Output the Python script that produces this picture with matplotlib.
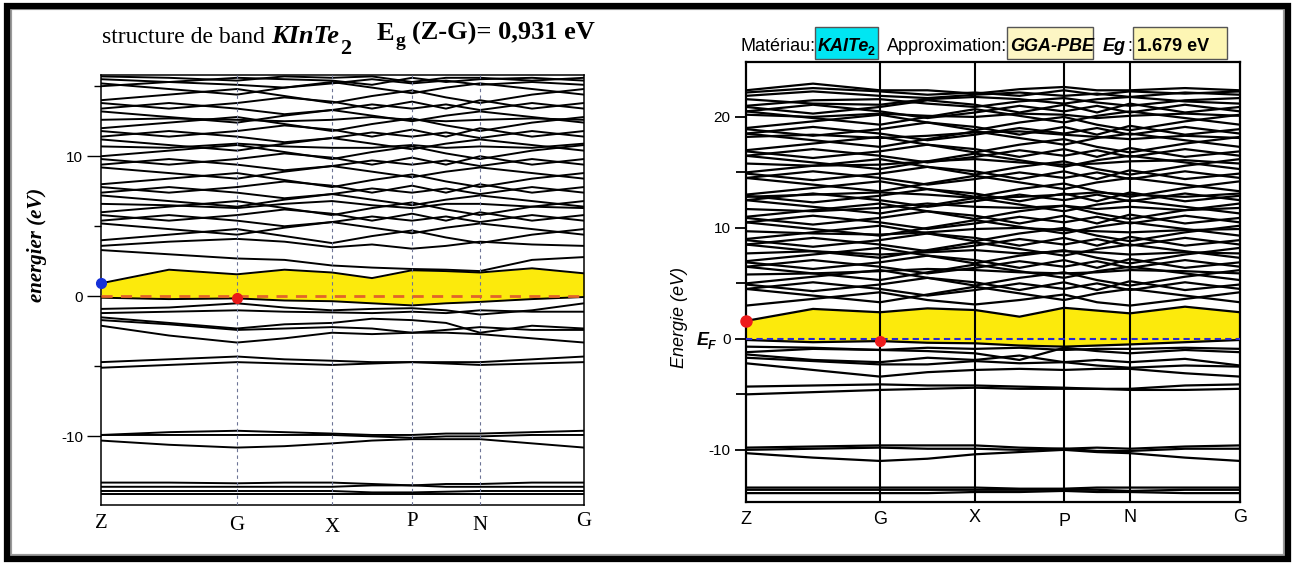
import matplotlib.pyplot as plt
import matplotlib.transforms as mtransforms
from matplotlib.patches import Rectangle

plt.rcParams['axes.unicode_minus'] = False

W, H = 1295, 566

# ---------------- data : left panel (KInTe2) ----------------
kl_labels = ['Z', 'G', 'X', 'P', 'N', 'G']
kl_sym = [0, 1.36, 2.31, 3.11, 3.79, 4.83]
# high symmetry points + midpoints
kl = [0, 0.68, 1.36, 1.835, 2.31, 2.71, 3.11, 3.45, 3.79, 4.31, 4.83]

left_cond = [
    [0.93, 1.9, 1.57, 1.9, 1.7, 1.3, 1.86, 1.8, 1.7, 2.0, 1.64],
    [3.3, 3.0, 2.7, 2.6, 2.2, 2.05, 1.95, 1.9, 1.8, 2.6, 2.8],
    [3.6, 3.9, 4.1, 3.9, 3.5, 3.7, 3.4, 3.6, 3.9, 3.7, 3.6],
    [4.0, 4.4, 4.8, 4.3, 3.8, 4.3, 4.7, 4.2, 3.8, 4.4, 4.8],
    [5.2, 4.8, 4.4, 4.9, 5.3, 4.9, 4.5, 4.9, 5.2, 4.8, 4.4],
    [5.4, 5.8, 5.4, 5.0, 5.3, 5.7, 5.4, 5.7, 5.3, 5.8, 5.4],
    [5.8, 5.4, 5.8, 6.2, 5.9, 5.4, 5.9, 5.4, 6.0, 5.4, 5.8],
    [6.0, 6.4, 6.8, 6.3, 5.8, 6.3, 6.7, 6.2, 5.8, 6.4, 6.8],
    [6.6, 6.5, 6.3, 6.6, 6.8, 6.5, 6.3, 6.6, 6.6, 6.4, 6.3],
    [7.2, 6.8, 6.4, 6.9, 7.3, 6.9, 6.5, 6.9, 7.2, 6.8, 6.4],
    [7.4, 7.8, 7.4, 7.0, 7.3, 7.7, 7.4, 7.7, 7.3, 7.8, 7.4],
    [7.8, 7.4, 7.8, 8.2, 7.9, 7.4, 7.9, 7.4, 8.0, 7.4, 7.8],
    [8.0, 8.4, 8.8, 8.3, 7.8, 8.3, 8.7, 8.2, 7.8, 8.4, 8.8],
    [9.2, 8.8, 8.4, 8.9, 9.3, 8.9, 8.5, 8.9, 9.2, 8.8, 8.4],
    [9.4, 9.8, 9.4, 9.0, 9.3, 9.7, 9.4, 9.7, 9.3, 9.8, 9.4],
    [9.8, 9.4, 9.8, 10.2, 9.9, 9.4, 9.9, 9.4, 10.0, 9.4, 9.8],
    [10.0, 10.4, 10.8, 10.3, 9.8, 10.3, 10.7, 10.2, 9.8, 10.4, 10.8],
    [10.7, 10.6, 10.9, 10.7, 10.6, 10.6, 10.8, 10.6, 10.7, 10.6, 10.9],
    [11.2, 10.8, 10.4, 10.9, 11.3, 10.9, 10.5, 10.9, 11.2, 10.8, 10.4],
    [11.4, 11.8, 11.4, 11.0, 11.3, 11.7, 11.4, 11.7, 11.3, 11.8, 11.4],
    [11.8, 11.4, 11.8, 12.2, 11.9, 11.4, 11.9, 11.4, 12.0, 11.4, 11.8],
    [12.0, 12.4, 12.8, 12.3, 11.8, 12.3, 12.7, 12.2, 11.8, 12.4, 12.8],
    [12.6, 12.7, 12.6, 12.5, 12.6, 12.8, 12.6, 12.5, 12.6, 12.7, 12.6],
    [13.2, 12.8, 12.4, 12.9, 13.3, 12.9, 12.5, 12.9, 13.2, 12.8, 12.4],
    [13.4, 13.8, 13.4, 13.0, 13.3, 13.7, 13.4, 13.7, 13.3, 13.8, 13.4],
    [13.8, 13.4, 13.8, 14.2, 13.9, 13.4, 13.9, 13.4, 14.0, 13.4, 13.8],
    [14.0, 14.4, 14.8, 14.3, 13.8, 14.3, 14.7, 14.2, 13.8, 14.4, 14.8],
    [15.2, 14.8, 14.4, 14.9, 15.3, 14.9, 14.5, 14.9, 15.2, 14.8, 14.4],
    [15.0, 15.3, 15.1, 14.9, 15.2, 15.5, 15.2, 15.4, 15.1, 15.3, 15.1],
    [15.5, 15.3, 15.6, 15.5, 15.4, 15.1, 15.6, 15.3, 15.5, 15.6, 15.4],
    [15.7, 15.6, 15.4, 15.7, 15.6, 15.7, 15.3, 15.6, 15.6, 15.4, 15.6],
]
left_val = [
    [-0.1, -0.2, -0.15, -0.3, -0.35, -0.5, -0.65, -0.5, -0.4, -0.2, -0.05],
    [-0.9, -0.8, -0.5, -0.8, -1.0, -0.9, -0.85, -1.0, -1.3, -1.0, -0.5],
    [-1.2, -1.1, -1.0, -1.1, -1.15, -1.2, -1.1, -1.2, -1.0, -1.1, -1.1],
    [-1.5, -1.9, -2.3, -2.0, -1.9, -1.6, -1.7, -1.9, -2.6, -2.1, -2.3],
    [-1.7, -2.0, -2.4, -2.3, -2.2, -2.3, -2.6, -2.4, -2.2, -2.4, -2.4],
    [-2.1, -2.8, -3.3, -3.0, -2.6, -2.7, -2.6, -2.6, -2.7, -3.0, -3.3],
    [-4.7, -4.5, -4.3, -4.5, -4.6, -4.7, -4.7, -4.7, -4.7, -4.5, -4.3],
    [-5.1, -4.9, -4.7, -4.8, -4.9, -4.8, -4.7, -4.8, -4.9, -4.8, -4.7],
    [-9.9, -9.7, -9.6, -9.7, -9.8, -9.9, -9.9, -9.8, -9.8, -9.7, -9.6],
    [-9.9, -9.9, -9.9, -9.9, -9.9, -10.0, -10.1, -10.0, -10.0, -9.9, -9.9],
    [-10.3, -10.6, -10.8, -10.7, -10.5, -10.3, -10.2, -10.2, -10.2, -10.5, -10.8],
    [-13.3, -13.3, -13.35, -13.3, -13.3, -13.4, -13.5, -13.4, -13.4, -13.3, -13.3],
    [-13.6, -13.6, -13.6, -13.6, -13.6, -13.5, -13.5, -13.6, -13.6, -13.6, -13.6],
    [-13.9, -13.9, -13.9, -13.9, -13.9, -14.0, -14.0, -13.95, -13.9, -13.9, -13.9],
    [-14.1, -14.1, -14.1, -14.1, -14.1, -14.1, -14.1, -14.1, -14.1, -14.1, -14.1],
]
left_cbm = (0, 0.93)
left_vbm = (1.36, -0.15)

# ---------------- data : right panel (KAlTe2) ----------------
kr_labels = ['Z', 'G', 'X', 'P', 'N', 'G']
kr_sym = [0, 1.34, 2.29, 3.18, 3.84, 4.94]
kr = [0, 0.67, 1.34, 1.815, 2.29, 2.735, 3.18, 3.51, 3.84, 4.39, 4.94]

right_cond = [
    [1.62, 2.7, 2.4, 2.75, 2.6, 2.0, 2.8, 2.55, 2.3, 2.9, 2.4],
    [3.0, 3.6, 4.2, 3.5, 3.1, 3.5, 4.0, 3.3, 3.0, 3.6, 4.2],
    [4.5, 3.9, 3.3, 4.0, 4.7, 4.1, 3.5, 4.1, 4.5, 3.9, 3.3],
    [4.5, 5.1, 4.5, 3.9, 4.4, 5.0, 4.5, 5.0, 4.4, 5.1, 4.5],
    [4.9, 4.3, 4.9, 5.5, 5.1, 4.4, 5.1, 4.4, 5.2, 4.4, 4.9],
    [5.0, 5.6, 6.2, 5.5, 4.8, 5.5, 6.0, 5.3, 4.8, 5.6, 6.2],
    [5.8, 5.9, 6.1, 6.3, 6.2, 6.0, 5.9, 6.0, 6.2, 6.1, 5.9],
    [6.5, 5.9, 5.3, 6.0, 6.7, 6.1, 5.5, 6.1, 6.5, 5.9, 5.3],
    [6.5, 7.1, 6.5, 5.9, 6.4, 7.0, 6.5, 7.0, 6.4, 7.1, 6.5],
    [6.9, 6.3, 6.9, 7.5, 7.1, 6.4, 7.1, 6.4, 7.2, 6.4, 6.9],
    [7.0, 7.6, 8.2, 7.5, 6.8, 7.5, 8.0, 7.3, 6.8, 7.6, 8.2],
    [7.7, 7.9, 7.6, 7.8, 8.0, 7.7, 7.9, 7.8, 7.6, 7.8, 7.7],
    [8.5, 7.9, 7.3, 8.0, 8.7, 8.1, 7.5, 8.1, 8.5, 7.9, 7.3],
    [8.5, 9.1, 8.5, 7.9, 8.4, 9.0, 8.5, 9.0, 8.4, 9.1, 8.5],
    [8.9, 8.3, 8.9, 9.5, 9.1, 8.4, 9.1, 8.4, 9.2, 8.4, 8.9],
    [9.0, 9.6, 10.2, 9.5, 8.8, 9.5, 10.0, 9.3, 8.8, 9.6, 10.2],
    [9.7, 9.5, 9.4, 9.6, 9.9, 10.0, 9.8, 9.7, 9.6, 9.8, 9.9],
    [10.5, 9.9, 9.3, 10.0, 10.7, 10.1, 9.5, 10.1, 10.5, 9.9, 9.3],
    [10.5, 11.1, 10.5, 9.9, 10.4, 11.0, 10.5, 11.0, 10.4, 11.1, 10.5],
    [10.9, 10.3, 10.9, 11.5, 11.1, 10.4, 11.1, 10.4, 11.2, 10.4, 10.9],
    [11.0, 11.6, 12.2, 11.5, 10.8, 11.5, 12.0, 11.3, 10.8, 11.6, 12.2],
    [11.7, 11.5, 11.8, 12.2, 11.9, 11.8, 12.0, 11.7, 11.9, 11.6, 11.8],
    [12.5, 11.9, 11.3, 12.0, 12.7, 12.1, 11.5, 12.1, 12.5, 11.9, 11.3],
    [12.5, 13.1, 12.5, 11.9, 12.4, 13.0, 12.5, 13.0, 12.4, 13.1, 12.5],
    [12.9, 12.3, 12.9, 13.5, 13.1, 12.4, 13.1, 12.4, 13.2, 12.4, 12.9],
    [12.8, 13.0, 13.2, 13.0, 12.7, 12.8, 13.0, 13.2, 13.0, 12.8, 13.1],
    [13.0, 13.6, 14.2, 13.5, 12.8, 13.5, 14.0, 13.3, 12.8, 13.6, 14.2],
    [14.5, 13.9, 13.3, 14.0, 14.7, 14.1, 13.5, 14.1, 14.5, 13.9, 13.3],
    [14.5, 15.1, 14.5, 13.9, 14.4, 15.0, 14.5, 15.0, 14.4, 15.1, 14.5],
    [14.9, 14.3, 14.9, 15.5, 15.1, 14.4, 15.1, 14.4, 15.2, 14.4, 14.9],
    [15.0, 15.6, 16.2, 15.5, 14.8, 15.5, 16.0, 15.3, 14.8, 15.6, 16.2],
    [15.8, 15.6, 15.7, 16.0, 16.2, 15.9, 15.7, 15.8, 16.0, 16.1, 15.8],
    [16.5, 15.9, 15.3, 16.0, 16.7, 16.1, 15.5, 16.1, 16.5, 15.9, 15.3],
    [16.5, 17.1, 16.5, 15.9, 16.4, 17.0, 16.5, 17.0, 16.4, 17.1, 16.5],
    [16.9, 16.3, 16.9, 17.5, 17.1, 16.4, 17.1, 16.4, 17.2, 16.4, 16.9],
    [17.0, 17.6, 18.2, 17.5, 16.8, 17.5, 18.0, 17.3, 16.8, 17.6, 18.2],
    [18.2, 18.4, 18.1, 18.3, 18.6, 18.7, 18.4, 18.2, 18.0, 18.3, 18.1],
    [18.5, 17.9, 17.3, 18.0, 18.7, 18.1, 17.5, 18.1, 18.5, 17.9, 17.3],
    [18.5, 19.1, 18.5, 17.9, 18.4, 19.0, 18.5, 19.0, 18.4, 19.1, 18.5],
    [18.9, 18.3, 18.9, 19.5, 19.1, 18.4, 19.1, 18.4, 19.2, 18.4, 18.9],
    [19.0, 19.6, 20.2, 19.5, 18.8, 19.5, 20.0, 19.3, 18.8, 19.6, 20.2],
    [20.2, 20.0, 20.3, 20.1, 20.0, 20.3, 20.2, 19.9, 20.1, 20.3, 20.1],
    [20.5, 19.9, 19.3, 20.0, 20.7, 20.1, 19.5, 20.1, 20.5, 19.9, 19.3],
    [20.5, 21.1, 20.5, 19.9, 20.4, 21.0, 20.5, 21.0, 20.4, 21.1, 20.5],
    [20.9, 20.3, 20.9, 21.5, 21.1, 20.4, 21.1, 20.4, 21.2, 20.4, 20.9],
    [21.0, 21.5, 21.6, 21.2, 20.9, 21.4, 21.7, 21.3, 21.0, 21.5, 21.7],
    [21.6, 21.2, 21.1, 21.6, 21.8, 21.6, 21.2, 21.6, 21.8, 21.4, 21.2],
    [21.9, 22.3, 21.9, 21.7, 22.0, 22.2, 21.9, 22.1, 21.8, 22.2, 22.0],
    [22.2, 22.6, 22.3, 22.0, 22.2, 21.9, 22.4, 22.0, 22.3, 22.1, 22.3],
    [22.4, 23.0, 22.4, 22.4, 22.1, 22.5, 22.7, 22.4, 22.4, 22.6, 22.4],
]
right_val = [
    [-0.1, -0.3, -0.2, -0.35, -0.4, -0.6, -0.7, -0.6, -0.5, -0.3, -0.1],
    [-0.7, -0.8, -1.0, -0.8, -0.9, -0.8, -1.0, -0.9, -0.9, -0.8, -0.9],
    [-1.2, -0.9, -1.0, -1.1, -1.3, -1.9, -0.8, -1.1, -1.3, -1.0, -1.2],
    [-1.4, -1.9, -2.1, -1.7, -1.9, -1.5, -2.1, -1.9, -2.1, -1.8, -2.4],
    [-1.7, -2.0, -2.3, -2.3, -2.0, -2.2, -2.1, -2.4, -2.6, -2.4, -2.5],
    [-2.2, -2.8, -3.4, -3.0, -2.8, -2.7, -2.8, -2.7, -2.7, -3.1, -3.4],
    [-4.3, -4.2, -4.1, -4.2, -4.2, -4.3, -4.4, -4.5, -4.5, -4.2, -4.1],
    [-5.0, -4.8, -4.6, -4.5, -4.4, -4.5, -4.5, -4.5, -4.6, -4.6, -4.5],
    [-9.8, -9.7, -9.6, -9.6, -9.6, -9.8, -9.9, -9.8, -9.9, -9.7, -9.6],
    [-10.0, -9.9, -9.8, -9.9, -9.9, -10.0, -9.9, -10.1, -10.1, -9.9, -9.9],
    [-10.3, -10.7, -11.0, -10.8, -10.4, -10.2, -10.0, -10.2, -10.3, -10.7, -11.0],
    [-13.4, -13.4, -13.4, -13.4, -13.4, -13.5, -13.5, -13.4, -13.4, -13.4, -13.4],
    [-13.6, -13.6, -13.6, -13.6, -13.6, -13.6, -13.6, -13.6, -13.7, -13.6, -13.6],
    [-13.9, -13.9, -13.9, -13.9, -13.8, -13.8, -13.7, -13.8, -13.8, -13.9, -13.9],
]
right_cbm = (0, 1.62)
right_vbm = (1.34, -0.2)


def fx(x):
    return x / W


def fy(y):
    return 1 - y / H


fig = plt.figure(figsize=(12.95, 5.66), dpi=100)

# outer frame with shadow
fig.patches.append(Rectangle((fx(10), fy(556)), fx(1275), 548 / H, transform=fig.transFigure,
                             fill=False, ec='#9a9a9a', lw=3, zorder=0))
fig.patches.append(Rectangle((fx(7), fy(559)), fx(1281), 553 / H, transform=fig.transFigure,
                             fill=False, ec='black', lw=4.5, zorder=1))

serif = ['Liberation Serif', 'DejaVu Serif']
sans = ['Liberation Sans', 'DejaVu Sans']

# ================= left panel =================
axl = fig.add_axes([fx(101), fy(505), fx(584 - 101), (505 - 75) / H])
axl.fill_between(kl, left_val[0], left_cond[0], color='#fcea0c', lw=0, zorder=1)
for band in left_cond + left_val:
    axl.plot(kl, band, color='black', lw=1.4, zorder=2)
for k in kl_sym[1:-1]:
    axl.axvline(k, color='#6d7496', lw=0.8, ls=(0, (3, 3)), zorder=3)
axl.axhline(0, color='#e2642a', lw=2, ls=(0, (4, 3)), zorder=3)
axl.plot(*left_cbm, 'o', color='#1530d8', ms=7, zorder=5, clip_on=False)
axl.plot(*left_vbm, 'o', color='#e81a1a', ms=7, zorder=5)
axl.set_xlim(kl_sym[0], kl_sym[-1])
axl.set_ylim(-14.9, 15.8)
axl.set_xticks([])
axl.set_yticks([-10, 0, 10])
axl.set_yticks([-5, 5, 15], minor=True)
axl.tick_params(axis='y', which='major', length=10, width=1, pad=3, labelsize=11)
axl.tick_params(axis='y', which='minor', length=5, width=1)
for lab in axl.get_yticklabels():
    lab.set_family(sans)
for s in axl.spines.values():
    s.set_linewidth(1.1)
trl = mtransforms.blended_transform_factory(axl.transData, fig.transFigure)
for k, lab, yp in zip(kl_sym, kl_labels, [523, 526, 527, 522, 526, 522]):
    axl.text(k, fy(yp), lab, transform=trl, ha='center', va='center',
             family=serif, fontsize=15)
fig.text(fx(37), fy(245), 'energier (eV)', rotation=90, ha='center', va='center',
         family=serif, fontsize=15, fontweight='bold', style='italic')
fig.text(fx(102), fy(43), 'structure de band', ha='left', va='baseline',
         family=serif, fontsize=17)
fig.text(fx(271), fy(43), 'KInTe', ha='left', va='baseline',
         family=serif, fontsize=19, fontweight='bold', style='italic')
fig.text(fx(340), fy(54), '2', ha='left', va='baseline',
         family=serif, fontsize=16, fontweight='bold')
fig.text(fx(377), fy(40), 'E', ha='left', va='baseline',
         family=serif, fontsize=19, fontweight='bold')
fig.text(fx(396), fy(46), 'g', ha='left', va='baseline',
         family=serif, fontsize=14, fontweight='bold')
fig.text(fx(412), fy(40), '(Z-G)= 0,931 eV', ha='left', va='baseline',
         family=serif, fontsize=19, fontweight='bold')

# ================= right panel =================
axr = fig.add_axes([fx(746), fy(502), fx(1240 - 746), (502 - 62) / H])
axr.fill_between(kr, right_val[0], right_cond[0], color='#fcea0c', lw=0, zorder=1)
for band in right_cond + right_val:
    axr.plot(kr, band, color='black', lw=1.6, zorder=2)
for k in kr_sym[1:-1]:
    axr.axvline(k, color='black', lw=1.5, zorder=3)
axr.axhline(0, color='#2a2ad0', lw=1.5, ls=(0, (3, 2)), zorder=3)
axr.plot(*right_cbm, 'o', color='#ee1c1c', ms=8, zorder=5, clip_on=False)
axr.plot(*right_vbm, 'o', color='#ee1c1c', ms=7, zorder=5)
axr.set_xlim(kr_sym[0], kr_sym[-1])
axr.set_ylim(-14.7, 24.95)
axr.set_xticks([])
axr.set_yticks([-10, 0, 10, 20])
axr.set_yticks([-5, 5, 15], minor=True)
axr.tick_params(axis='y', which='major', length=8, width=1.3, pad=3, labelsize=11)
axr.tick_params(axis='y', which='minor', length=7, width=1.3)
for lab in axr.get_yticklabels():
    lab.set_family(sans)
for s in axr.spines.values():
    s.set_linewidth(1.6)
trr = mtransforms.blended_transform_factory(axr.transData, fig.transFigure)
for k, lab, yp in zip(kr_sym, kr_labels, [520, 519, 518, 521, 518, 518]):
    axr.text(k, fy(yp), lab, transform=trr, ha='center', va='center',
             family=sans, fontsize=13)
fig.text(fx(679), fy(317), 'Energie (eV)', rotation=90, ha='center', va='center',
         family=sans, fontsize=13, style='italic')
fig.text(fx(697), fy(345), 'E', ha='left', va='baseline',
         family=sans, fontsize=13, fontweight='bold', style='italic')
fig.text(fx(708), fy(349), 'F', ha='left', va='baseline',
         family=sans, fontsize=9, fontweight='bold', style='italic')

# header with boxes
fig.patches.append(Rectangle((fx(815), fy(59)), fx(63), 32 / H, transform=fig.transFigure,
                             fc='#00e6f2', ec='#555555', lw=1, zorder=2))
fig.patches.append(Rectangle((fx(1007), fy(59)), fx(86), 32 / H, transform=fig.transFigure,
                             fc='#fdf6c4', ec='#555555', lw=1, zorder=2))
fig.patches.append(Rectangle((fx(1133), fy(59)), fx(94), 32 / H, transform=fig.transFigure,
                             fc='#fdf6b4', ec='#555555', lw=1, zorder=2))
fig.text(fx(740), fy(51), 'Matériau:', ha='left', va='baseline',
         family=sans, fontsize=13, zorder=3)
fig.text(fx(818), fy(51), 'KAlTe', ha='left', va='baseline',
         family=sans, fontsize=13, fontweight='bold', style='italic', zorder=3)
fig.text(fx(868), fy(55), '2', ha='left', va='baseline',
         family=sans, fontsize=9, fontweight='bold', zorder=3)
fig.text(fx(887), fy(51), 'Approximation:', ha='left', va='baseline',
         family=sans, fontsize=13, zorder=3)
fig.text(fx(1010), fy(51), 'GGA-PBE', ha='left', va='baseline',
         family=sans, fontsize=13, fontweight='bold', style='italic', zorder=3)
fig.text(fx(1103), fy(51), 'Eg', ha='left', va='baseline',
         family=sans, fontsize=13, fontweight='bold', style='italic', zorder=3)
fig.text(fx(1127), fy(51), ':', ha='left', va='baseline',
         family=sans, fontsize=13, zorder=3)
fig.text(fx(1137), fy(51), '1.679 eV', ha='left', va='baseline',
         family=sans, fontsize=13, fontweight='bold', zorder=3)

plt.savefig('out.png', dpi=100)
